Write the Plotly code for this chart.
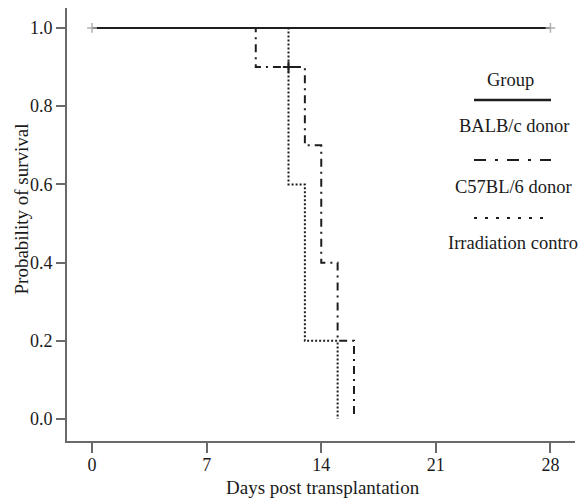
import plotly.graph_objects as go

# ---- data ----
balb_days = [0, 28]
balb_surv = [1.0, 1.0]
balb_censor_days = [0, 28]
balb_censor_surv = [1.0, 1.0]

c57_days = [0, 10, 13, 14, 15, 16]
c57_surv = [1.0, 0.9, 0.7, 0.4, 0.2, 0.0]
c57_censor_days = [12]
c57_censor_surv = [0.9]

irr_days = [0, 12, 13, 15]
irr_surv = [1.0, 0.6, 0.2, 0.0]

x_ticks = [0, 7, 14, 21, 28]
y_ticks = [0.0, 0.2, 0.4, 0.6, 0.8, 1.0]
y_ticklabels = ["0.0", "0.2", "0.4", "0.6", "0.8", "1.0"]

group_names = ["BALB/c donor", "C57BL/6 donor", "Irradiation control"]

FONT = "Liberation Serif"
TXT = "#1a1a1a"
LINE = "#1e1e1e"
AX = "#6a6a6a"
DASHDOT = "8px,5px,2px,5px"
DOTTED = "2px,2px"

fig = go.Figure()

fig.add_trace(go.Scatter(x=irr_days, y=irr_surv, mode="lines", line_shape="hv",
                         line=dict(color=LINE, width=2, dash=DOTTED), showlegend=False))
fig.add_trace(go.Scatter(x=c57_days, y=c57_surv, mode="lines", line_shape="hv",
                         line=dict(color=LINE, width=2, dash=DASHDOT), showlegend=False))
fig.add_trace(go.Scatter(x=c57_censor_days, y=c57_censor_surv, mode="markers",
                         marker=dict(symbol="cross-thin", size=8,
                                     line=dict(color=LINE, width=2)), showlegend=False))
fig.add_trace(go.Scatter(x=balb_days, y=balb_surv, mode="lines", line_shape="hv",
                         line=dict(color=LINE, width=2), showlegend=False))
fig.add_trace(go.Scatter(x=balb_censor_days, y=balb_censor_surv, mode="markers",
                         marker=dict(symbol="cross-thin", size=7,
                                     line=dict(color="#b0b0b0", width=1.5)), showlegend=False))

# ---- layout geometry (page offset of 8px from body margin) ----
W, H = 578, 490
L, R, T, B = 59, 11, 0, 57
pw, ph = W - L - R, H - T - B


def px(x):
    return (x - L) / pw


def py(y):
    return (H - B - y) / ph


fnt = dict(family=FONT, size=18.5, color=TXT)

# manual legend (sample above label)
fig.add_annotation(x=px(502), y=py(72), xref="paper", yref="paper", text="Group",
                   showarrow=False, font=fnt, xanchor="center", yanchor="middle")
samples = [("solid", 92, 2.5), ("12px,9px,3px,9px", 152, 2), ("3px,8px", 210, 2)]
label_pos = [(506, 118), (505, 179), (507, 235)]
for (dash, sy, lw), name, (lx, ly) in zip(samples, group_names, label_pos):
    fig.add_shape(type="line", xref="paper", yref="paper",
                  x0=px(466), x1=px(543), y0=py(sy), y1=py(sy),
                  line=dict(color=LINE, width=lw, dash=dash))
    fig.add_annotation(x=px(lx), y=py(ly), xref="paper", yref="paper", text=name,
                       showarrow=False, font=fnt, xanchor="center", yanchor="middle")

# axis titles
fig.add_annotation(x=px(315), y=py(479), xref="paper", yref="paper",
                   text="Days post transplantation", showarrow=False,
                   font=dict(family=FONT, size=19, color=TXT), xanchor="center", yanchor="middle")
fig.add_annotation(x=px(0), y=py(201), xref="paper", yref="paper",
                   text="Probability of survival", showarrow=False, textangle=-90,
                   font=dict(family=FONT, size=19, color=TXT), xanchor="left", yanchor="middle")

fig.update_layout(
    width=W, height=H,
    margin=dict(l=L, r=R, t=T, b=B),
    paper_bgcolor="white", plot_bgcolor="white",
    font=dict(family=FONT, size=18, color=TXT),
    showlegend=False,
)
fig.update_xaxes(range=[-1.53, 29.5], tickvals=x_ticks, ticks="outside", ticklen=10,
                 tickwidth=1.5, tickcolor=AX, showline=True, linecolor=AX, linewidth=2,
                 showgrid=False, zeroline=False, ticklabelstandoff=-4,
                 tickfont=dict(family=FONT, size=18, color=TXT))
fig.update_yaxes(range=[-0.056, 1.051], tickvals=y_ticks, ticktext=y_ticklabels,
                 ticks="outside", ticklen=9, tickwidth=1.5, tickcolor=AX,
                 showline=True, linecolor=AX, linewidth=2, showgrid=False, zeroline=False,
                 tickfont=dict(family=FONT, size=18, color=TXT))

fig.write_html("out.html")
